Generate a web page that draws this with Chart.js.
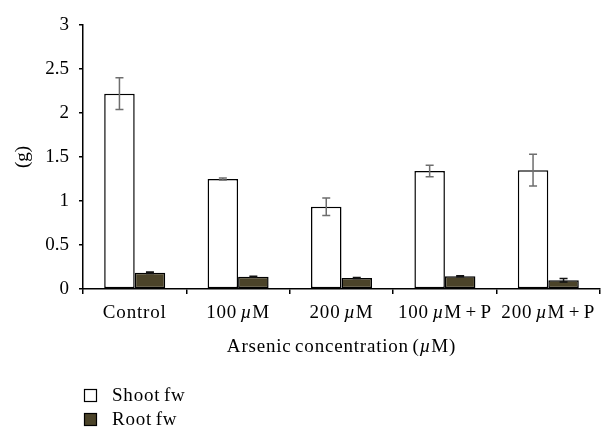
<!DOCTYPE html>
<html><head><meta charset="utf-8">
<script src="https://cdn.jsdelivr.net/npm/chart.js@4"></script>
<style>html,body{margin:0;padding:0;background:#fff}#wrap{width:613px;height:428px}</style>
</head><body><div id="wrap"><canvas id="c" width="613" height="428"></canvas></div>
<script>
const categories = ['Control', '100 µM', '200 µM', '100 µM + P', '200 µM + P'];
const shootFw = [2.22, 1.25, 0.935, 1.34, 1.35];
const shootErr = [0.18, 0.01, 0.10, 0.065, 0.18];
const rootFw = [0.185, 0.14, 0.125, 0.145, 0.10];
const rootErr = [0.008, 0.006, 0.006, 0.006, 0.02];
const yTicks = [0, 0.5, 1, 1.5, 2, 2.5, 3];
const seriesNames = ['Shoot fw', 'Root fw'];
const xTitle = 'Arsenic concentration (µM)';
const yTitle = '(g)';

const FONT = '"Liberation Serif", "Times New Roman", serif';
const FS = 19;
const LS = '0.8px';
const WS = '-2px';
const shootColor = '#ffffff';
const rootColor = '#4b4329';

function setSpacing(ctx) {
  ctx.letterSpacing = LS;
  ctx.wordSpacing = WS;
}

function drawRich(ctx, text, x, y, size) {
  const parts = text.split(/(µ)/).filter(p => p.length);
  const fonts = parts.map(p => (p === 'µ' ? 'italic ' : '') + size + 'px ' + FONT);
  setSpacing(ctx);
  let total = 0;
  const widths = parts.map((p, i) => { ctx.font = fonts[i]; const w = ctx.measureText(p).width; total += w; return w; });
  let cx = x - total / 2;
  ctx.textAlign = 'left';
  ctx.textBaseline = 'middle';
  ctx.fillStyle = '#000';
  parts.forEach((p, i) => { ctx.font = fonts[i]; ctx.fillText(p, cx, y); cx += widths[i]; });
}

const customPlugin = {
  id: 'custom',
  afterDatasetsDraw(chart) {
    const ctx = chart.ctx;
    const ys = chart.scales.y;
    const sets = [[shootFw, shootErr, '#6e6e6e'], [rootFw, rootErr, '#111']];
    sets.forEach((s, di) => {
      const meta = chart.getDatasetMeta(di);
      meta.data.forEach((bar, i) => {
        const x = bar.x;
        const yt = ys.getPixelForValue(s[0][i] + s[1][i]);
        const yb = ys.getPixelForValue(s[0][i] - s[1][i]);
        ctx.save();
        ctx.strokeStyle = s[2];
        ctx.lineWidth = 1.5;
        ctx.beginPath();
        ctx.moveTo(x, yt); ctx.lineTo(x, yb);
        ctx.moveTo(x - 4, yt); ctx.lineTo(x + 4, yt);
        ctx.moveTo(x - 4, yb); ctx.lineTo(x + 4, yb);
        ctx.stroke();
        ctx.restore();
      });
    });
  },
  afterDraw(chart) {
    const ctx = chart.ctx;
    const xs = chart.scales.x;
    ctx.save();
    categories.forEach((c, i) => {
      drawRich(ctx, c, xs.getPixelForValue(i), 313, FS);
    });
    drawRich(ctx, xTitle, (chart.chartArea.left + chart.chartArea.right) / 2, 347, FS);
    const fills = [shootColor, rootColor];
    seriesNames.forEach((n, i) => {
      const y = 389 + i * 24;
      ctx.fillStyle = fills[i];
      ctx.fillRect(84, y, 13, 13);
      ctx.strokeStyle = '#000';
      ctx.lineWidth = 1.2;
      ctx.strokeRect(84.5, y + 0.5, 12, 12);
      ctx.fillStyle = '#000';
      ctx.font = FS + 'px ' + FONT;
      setSpacing(ctx);
      ctx.textAlign = 'left';
      ctx.textBaseline = 'middle';
      ctx.fillText(n, 112, y + 7);
    });
    ctx.restore();
  }
};

new Chart(document.getElementById('c'), {
  type: 'bar',
  data: {
    labels: categories,
    datasets: [
      { label: seriesNames[0], data: shootFw, backgroundColor: shootColor, borderColor: '#000', borderWidth: 1.5, borderSkipped: false, categoryPercentage: 0.59, barPercentage: 1.0 },
      { label: seriesNames[1], data: rootFw, backgroundColor: rootColor, borderColor: '#000', borderWidth: 1.5, borderSkipped: false, categoryPercentage: 0.59, barPercentage: 1.0 }
    ]
  },
  options: {
    responsive: false,
    animation: false,
    layout: { padding: { top: 25, right: 13, left: 0, bottom: 0 } },
    plugins: { legend: { display: false }, tooltip: { enabled: false } },
    scales: {
      x: {
        grid: { display: true, drawOnChartArea: false, drawTicks: true, tickLength: 5, color: '#000', lineWidth: 1.5, offset: true },
        border: { color: '#000', width: 1.5 },
        ticks: { display: false },
        afterFit(s) { s.height = 139; }
      },
      y: {
        min: 0, max: 3,
        afterBuildTicks(s) { s.ticks = yTicks.map(v => ({ value: v })); },
        ticks: { font: { family: FONT, size: FS }, color: '#000', padding: 10, callback: v => String(v) },
        grid: { display: true, drawOnChartArea: false, drawTicks: true, tickLength: 4, color: '#000', lineWidth: 1.5 },
        border: { color: '#000', width: 1.5 },
        title: { display: true, text: yTitle, font: { family: FONT, size: FS }, color: '#000', padding: { top: 12, bottom: 0 } },
        afterFit(s) { s.width = 83; }
      }
    }
  },
  plugins: [customPlugin]
});
</script>
</body></html>
